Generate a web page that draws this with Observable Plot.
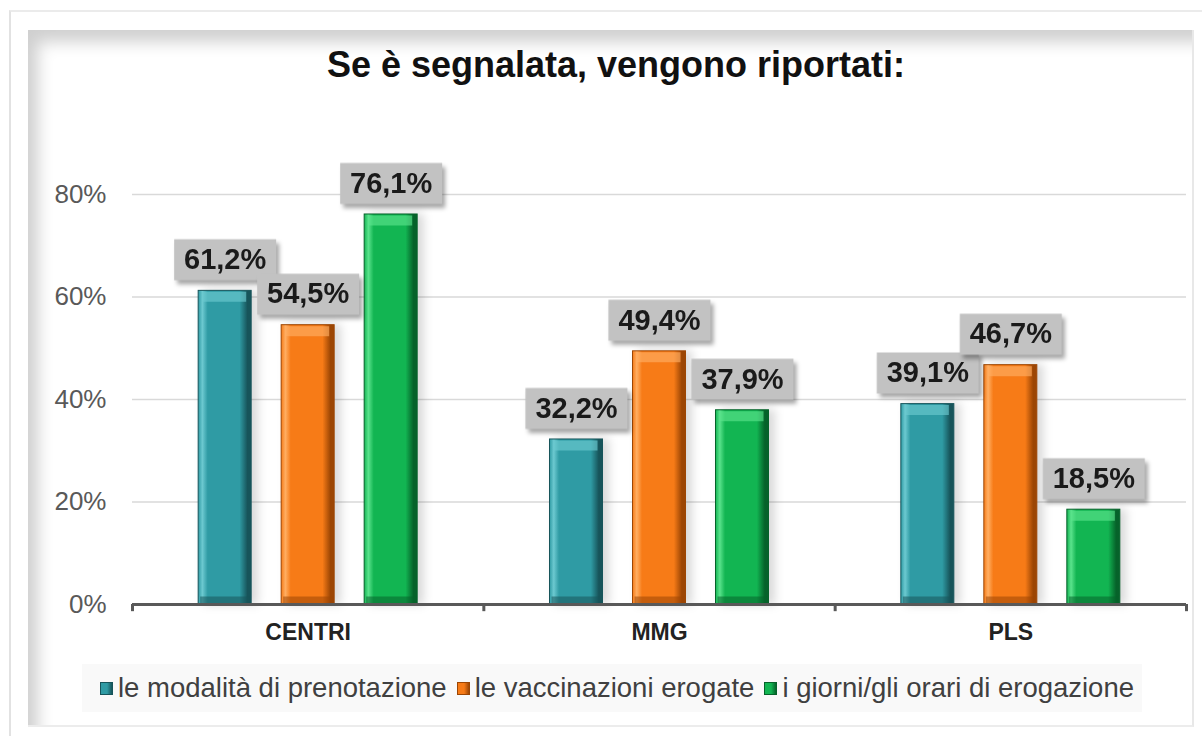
<!DOCTYPE html>
<html>
<head>
<meta charset="utf-8">
<script src="https://cdn.jsdelivr.net/npm/d3@7"></script>
<script src="https://cdn.jsdelivr.net/npm/@observablehq/plot@0.6"></script>
<style>
html, body { margin: 0; padding: 0; background: #fff; }
#wrap { position: relative; width: 1202px; height: 736px; overflow: hidden; font-family: "Liberation Sans", Arial, sans-serif; background: #fff; }
#outer { position: absolute; left: 9px; top: 10px; width: 1200px; height: 730px; border-left: 2px solid #e2e2e2; border-top: 2px solid #ebebeb; }
#panel { position: absolute; left: 28px; top: 30px; width: 1164px; height: 695px; border-right: 2px solid #e8e8e8; border-bottom: 2px solid #ececec; box-shadow: inset 20px 22px 16px -10px rgba(0,0,0,0.19); }
#title { position: absolute; left: 30px; width: 1172px; top: 47px; text-align: center; font-weight: bold; font-size: 36px; line-height: 36px; color: #111; }
#chart { position: absolute; left: 0; top: 120px; }
#legend { position: absolute; left: 82px; top: 664px; width: 1060px; height: 48px; background: #f9f9f9; display: flex; justify-content: center; align-items: center; font-size: 27.5px; color: #404040; padding-left: 10px; box-sizing: border-box; }
.item { display: flex; align-items: center; margin: 0 5px; white-space: nowrap; }
.sw { width: 13px; height: 13px; margin-right: 5px; box-sizing: border-box; }
</style>
</head>
<body>
<div id="wrap">
  <div id="outer"></div>
  <div id="panel"></div>
  <div id="title">Se è segnalata, vengono riportati:</div>
  <div id="chart"></div>
  <div id="legend"></div>
</div>
<script>
// ---- data ----
const categories = ["CENTRI", "MMG", "PLS"];
const seriesNames = ["le modalità di prenotazione", "le vaccinazioni erogate", "i giorni/gli orari di erogazione"];
const modalita = [61.2, 32.2, 39.1];
const vaccinazioni = [54.5, 49.4, 46.7];
const giorni = [76.1, 37.9, 18.5];
const yTicks = [0, 20, 40, 60, 80];

// ---- styles ----
const palette = [
  { main: "#2f9ba4", light: "#6cc9d0", dark: "#17545a" },
  { main: "#f77b17", light: "#ffae62", dark: "#9c4604" },
  { main: "#12b552", light: "#5ae38c", dark: "#06622a" }
];
const seriesValues = [modalita, vaccinazioni, giorni];
const W = 1202, H = 540;
const marginLeft = 132, marginRight = 16, marginTop = 74, marginBottom = 56;
const band = (W - marginLeft - marginRight) / categories.length;
const barW = 53;
const step = 83;
const offsets = [-step, 0, step];
const inset = (band - barW) / 2;
const fmt = v => v.toFixed(1).replace(".", ",") + "%";
const labelBox = { draw(ctx) { ctx.rect(-51, -20.5, 102, 41); } };

const marks = [
  Plot.gridY({ ticks: yTicks.filter(d => d > 0), stroke: "#d9d9d9", strokeOpacity: 1, strokeWidth: 1.3 }),
  Plot.axisY({ ticks: yTicks, tickSize: 0, tickPadding: 26, tickFormat: d => d + "%", fontSize: 26, fill: "#595959", label: null }),
  Plot.axisX({ tickSize: 0, tickPadding: 19, fontSize: 23, fontWeight: "bold", fill: "#222", label: null })
];

seriesValues.forEach((vals, j) => {
  const data = categories.map((c, i) => ({ category: c, value: vals[i] }));
  const p = palette[j];
  marks.push(Plot.barY(data, { x: "category", y: "value", dx: offsets[j], insetLeft: inset, insetRight: inset, fill: `url(#bar${j})`, stroke: p.dark, strokeWidth: 1 }));
  marks.push(Plot.tickY(data, { x: "category", y: "value", dx: offsets[j], dy: 6, insetLeft: inset + 4, insetRight: inset + 5, stroke: p.light, strokeWidth: 10, strokeOpacity: 0.65 }));
  marks.push(Plot.tickY(data, { x: "category", y: () => 0, dx: offsets[j], dy: -4, insetLeft: inset + 2, insetRight: inset + 2, stroke: p.dark, strokeWidth: 8, strokeOpacity: 0.55 }));
});

marks.push(Plot.ruleY([0], { stroke: "#595959", strokeWidth: 3 }));
marks.push(Plot.ruleX(categories, { x: d => d, y1: 0, y2: -1.4, dx: -band / 2, stroke: "#595959", strokeWidth: 3 }));
marks.push(Plot.ruleX(categories.slice(-1), { x: d => d, y1: 0, y2: -1.4, dx: band / 2, stroke: "#595959", strokeWidth: 3 }));

seriesValues.forEach((vals, j) => {
  const data = categories.map((c, i) => ({ category: c, value: vals[i], label: fmt(vals[i]) }));
  marks.push(Plot.dot(data, { x: "category", y: "value", dx: offsets[j], dy: -31, symbol: labelBox, fill: "#c2c2c2", stroke: "none" }));
  marks.push(Plot.text(data, { x: "category", y: "value", text: "label", dx: offsets[j], dy: -31, fontSize: 29, fontWeight: "bold", fill: "#1a1a1a", lineAnchor: "middle" }));
});

const svg = Plot.plot({
  width: W, height: H,
  marginLeft, marginRight, marginTop, marginBottom,
  style: { background: "transparent", fontFamily: "'Liberation Sans', Arial, sans-serif", overflow: "visible" },
  x: { domain: categories, padding: 0, round: false },
  y: { domain: [0, 80] },
  marks
});

const defs = d3.select(svg).insert("defs", ":first-child");
palette.forEach((p, j) => {
  const g = defs.append("linearGradient").attr("id", "bar" + j).attr("x1", 0).attr("x2", 1).attr("y1", 0).attr("y2", 0);
  [[0, p.main], [0.08, p.light], [0.18, p.main], [0.78, p.main], [0.93, p.dark], [1, p.dark]].forEach(([o, c]) => {
    g.append("stop").attr("offset", o).attr("stop-color", c);
  });
});
d3.select(svg).selectAll("g[aria-label='bar']").style("filter", "drop-shadow(6px 0px 5px rgba(0,0,0,0.15))");
d3.select(svg).selectAll("g[aria-label='dot']").style("filter", "drop-shadow(3px 4px 2px rgba(0,0,0,0.35))");
document.getElementById("chart").appendChild(svg);

// ---- legend ----
const legend = d3.select("#legend");
seriesNames.forEach((name, j) => {
  const it = legend.append("div").attr("class", "item");
  it.append("div").attr("class", "sw")
    .style("background", `linear-gradient(90deg, ${palette[j].main} 0%, ${palette[j].main} 55%, ${palette[j].dark} 100%)`)
    .style("border", `1px solid ${palette[j].dark}`);
  it.append("span").text(name);
});
</script>
</body>
</html>
